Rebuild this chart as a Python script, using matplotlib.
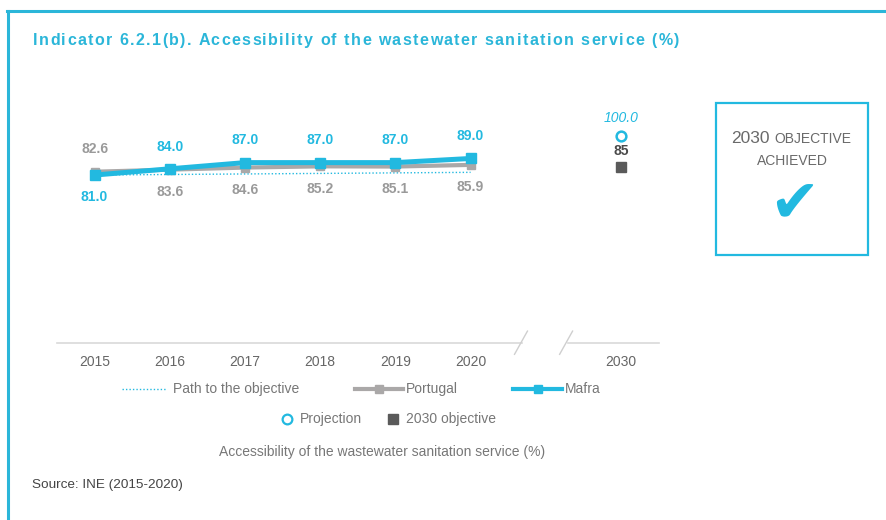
import matplotlib
matplotlib.use("Agg")
import matplotlib.pyplot as plt
from matplotlib.lines import Line2D
from matplotlib.patches import Rectangle

plt.rcParams["font.family"] = ["Liberation Sans", "DejaVu Sans"]

CYAN = "#22b9e0"
TITLE_CYAN = "#2bb6d9"
GRAY = "#aaa8a8"
LABEL_GRAY = "#9a9a9a"
DARK = "#5a5a5a"

years = ["2015", "2016", "2017", "2018", "2019", "2020"]
target_year = "2030"
mafra = [81.0, 84.0, 87.0, 87.0, 87.0, 89.0]
portugal = [82.6, 83.6, 84.6, 85.2, 85.1, 85.9]
path_years = ["2015", "2020"]
path_values = [81.0, 82.3]
projection_2030 = 100.0
objective_2030 = 85

TITLE = "Indicator 6.2.1(b). Accessibility of the wastewater sanitation service (%)"

W, H = 887, 520


def fx(px):
    return px / W


def fy(py):
    return 1 - py / H


def spaced_text(fig, x0, x1, y, s, **kw):
    # matplotlib has no letter-spacing, so lay the title out one glyph at a time
    renderer = fig.canvas.get_renderer()
    probe = fig.text(0, 0, "", **kw)

    def width(t):
        probe.set_text(t + "x")
        w = probe.get_window_extent(renderer).width
        probe.set_text("x")
        return w - probe.get_window_extent(renderer).width

    offsets = [width(s[:i]) for i in range(len(s))]
    probe.set_text(s[-1])
    last_w = probe.get_window_extent(renderer).width
    probe.remove()
    natural = offsets[-1] + last_w
    extra = (x1 - x0 - natural) / (len(s) - 1)
    for i, ch in enumerate(s):
        if ch != " ":
            fig.text(fx(x0 + offsets[i] + i * extra), y, ch, ha="left", **kw)


fig = plt.figure(figsize=(W / 100, H / 100), dpi=100)
ax = fig.add_axes([fx(57), fy(342.7), 601.6 / W, 227.7 / H])

pos = list(range(len(years)))
target_pos = len(years) + 1
path_pos = [years.index(y) for y in path_years]

ax.plot(path_pos, path_values, color=CYAN, linestyle=(0, (1, 1.5)), linewidth=1.0, zorder=2)
ax.plot(pos, portugal, color=GRAY, linewidth=3.0, marker="s", markersize=6, zorder=3)
ax.plot(pos, mafra, color=CYAN, linewidth=3.6, marker="s", markersize=7.5, zorder=4)
ax.plot([target_pos], [projection_2030], marker="o", markersize=7, markerfacecolor="white",
        markeredgecolor=CYAN, markeredgewidth=1.8, linestyle="none", zorder=4)
ax.plot([target_pos], [objective_2030], marker="s", markersize=6.5, color=DARK, linestyle="none", zorder=4)

# value labels
for i, (m, p) in enumerate(zip(mafra, portugal)):
    m_off = 16 if m >= p else -16
    p_off = -m_off
    ax.annotate(f"{m:.1f}", (i, m), xytext=(0, m_off), textcoords="offset points", ha="center",
                va="center", fontsize=10, fontweight="bold", color=CYAN)
    ax.annotate(f"{p:.1f}", (i, p), xytext=(0, p_off), textcoords="offset points", ha="center",
                va="center", fontsize=10, fontweight="bold", color=LABEL_GRAY)
ax.annotate(f"{projection_2030:.1f}", (target_pos, projection_2030), xytext=(0, 13), textcoords="offset points",
            ha="center", va="center", fontsize=10, fontstyle="italic", color=CYAN)
ax.annotate(f"{objective_2030}", (target_pos, objective_2030), xytext=(0, 11.5), textcoords="offset points",
            ha="center", va="center", fontsize=10, fontweight="bold", color="#4a4a4a")

# broken baseline
ax.plot([-0.5, 5.69], [0, 0], color="#d9d9d9", linewidth=1.2, clip_on=False, zorder=1)
ax.plot([6.29, 7.5], [0, 0], color="#d9d9d9", linewidth=1.2, clip_on=False, zorder=1)
for bx in (5.67, 6.27):
    ax.plot([bx - 0.086, bx + 0.086], [-5.6, 5.6], color="#cfcfcf", linewidth=1.0, clip_on=False)

ax.set_xlim(-0.5, 7.5)
ax.set_ylim(0, 110)
ax.set_xticks(pos + [target_pos])
ax.set_xticklabels(years + [target_year], fontsize=10, color="#666666")
ax.tick_params(axis="x", length=0, pad=9)
ax.set_yticks([])
for s in ax.spines.values():
    s.set_visible(False)

# frame lines
fig.add_artist(Line2D([fx(7), 1], [fy(10.5), fy(10.5)], color=TITLE_CYAN, linewidth=2.2))
fig.add_artist(Line2D([fx(8), fx(8)], [fy(10.5), 0], color=TITLE_CYAN, linewidth=2.2))

spaced_text(fig, 33, 679, fy(41), TITLE, fontsize=11.5, fontweight="bold", color=TITLE_CYAN, va="center")

# legend row 1
ly1 = fy(389)
fig.add_artist(Line2D([fx(122), fx(166)], [ly1, ly1], color=CYAN, linestyle=(0, (1, 1.5)), linewidth=1.0))
fig.text(fx(173), ly1, "Path to the objective", fontsize=10, color="#777777", va="center")
fig.add_artist(Line2D([fx(355), fx(403)], [ly1, ly1], color=GRAY, linewidth=3.0))
fig.add_artist(Line2D([fx(379)], [ly1], color=GRAY, marker="s", markersize=5.5))
fig.text(fx(406), ly1, "Portugal", fontsize=10, color="#777777", va="center")
fig.add_artist(Line2D([fx(513), fx(562)], [ly1, ly1], color=CYAN, linewidth=3.0))
fig.add_artist(Line2D([fx(537.5)], [ly1], color=CYAN, marker="s", markersize=6))
fig.text(fx(565), ly1, "Mafra", fontsize=10, color="#777777", va="center")

# legend row 2
ly2 = fy(418.5)
fig.add_artist(Line2D([fx(287)], [ly2], marker="o", markersize=7, markerfacecolor="white",
                      markeredgecolor=CYAN, markeredgewidth=1.6))
fig.text(fx(300), ly2, "Projection", fontsize=10, color="#777777", va="center")
fig.add_artist(Line2D([fx(393)], [ly2], marker="s", markersize=6.5, color=DARK))
fig.text(fx(406), ly2, "2030 objective", fontsize=10, color="#777777", va="center")

fig.text(fx(382), fy(452), "Accessibility of the wastewater sanitation service (%)", fontsize=10,
         color="#777777", ha="center", va="center")
fig.text(fx(32), fy(485), "Source: INE (2015-2020)", fontsize=9.7, color="#444444", va="center")

# objective box
fig.add_artist(Rectangle((fx(716), fy(255)), (868 - 716) / W, (255 - 103) / H, fill=False,
                         edgecolor=CYAN, linewidth=1.6))
fig.text(fx(731), fy(143.3), "2030", fontsize=12.5, color="#6a6a6a", va="baseline", ha="left")
fig.text(fx(774), fy(143.3), "OBJECTIVE", fontsize=10, color="#6a6a6a", va="baseline", ha="left")
fig.text(fx(792), fy(165), "ACHIEVED", fontsize=10, color="#6a6a6a", va="baseline", ha="center")
fig.text(fx(794), fy(206), "\u2714", fontsize=43, color=CYAN, ha="center", va="center",
         family="DejaVu Sans")

fig.savefig("out.png", dpi=100)
